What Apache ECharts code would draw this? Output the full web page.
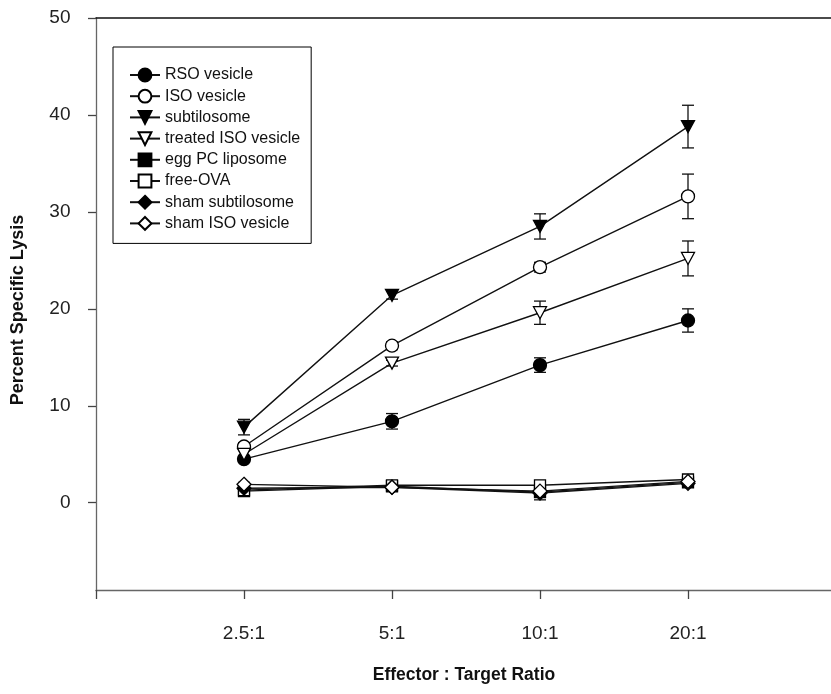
<!DOCTYPE html>
<html>
<head>
<meta charset="utf-8">
<script src="https://cdn.jsdelivr.net/npm/echarts@6/dist/echarts.min.js"></script>
<style>
html,body{margin:0;padding:0;background:#fff;}
#chart{width:831px;height:694px;}
</style>
</head>
<body>
<div id="chart"></div>
<script>
// ---- data ----
var categories = ['2.5:1', '5:1', '10:1', '20:1'];
var xPositions = [1, 2, 3, 4];
var yTicks = [0, 10, 20, 30, 40, 50];

var rsoVesicle = [4.5, 8.4, 14.2, 18.8];
var rsoErr = [0.3, 0.8, 0.75, 1.2];
var isoVesicle = [5.8, 16.2, 24.3, 31.6];
var isoErr = [0.4, 0.4, 0.5, 2.3];
var subtilosome = [7.8, 21.4, 28.5, 38.8];
var subtilosomeErr = [0.8, 0.4, 1.3, 2.2];
var treatedIso = [5.0, 14.4, 19.6, 25.2];
var treatedIsoErr = [0.4, 0.3, 1.2, 1.8];
var eggPC = [1.2, 1.7, 1.1, 2.1];
var freeOVA = [1.3, 1.8, 1.8, 2.4];
var shamSubtilosome = [1.5, 1.6, 1.0, 2.0];
var shamIso = [1.9, 1.6, 1.2, 2.2];
var shamIsoErr = [0.2, 0.2, 0.9, 0.2];

var FONT = 'Liberation Sans, Arial, sans-serif';
var downTri = 'path://M0,0 L20,0 L10,17.3 Z';

function pts(vals) { return vals.map(function (v, i) { return [xPositions[i], v]; }); }
function errs(vals, e) { return vals.map(function (v, i) { return [xPositions[i], v - e[i], v + e[i]]; }); }

function lineSeries(name, vals, symbol, filled, size) {
  return {
    name: name, type: 'line', data: pts(vals),
    symbol: symbol, symbolSize: size, showSymbol: true,
    lineStyle: { color: '#111', width: 1.4 },
    itemStyle: { color: filled ? '#000' : '#fff', borderColor: '#000', borderWidth: 1.3 },
    z: 5, animation: false
  };
}
function errSeries(vals, e) {
  return {
    type: 'custom', data: errs(vals, e), z: 3, silent: true, animation: false,
    renderItem: function (params, api) {
      var x = api.value(0);
      var lo = api.coord([x, api.value(1)]);
      var hi = api.coord([x, api.value(2)]);
      var w = 6;
      var st = { stroke: '#111', lineWidth: 1.3 };
      return { type: 'group', children: [
        { type: 'line', shape: { x1: lo[0], y1: lo[1], x2: hi[0], y2: hi[1] }, style: st },
        { type: 'line', shape: { x1: lo[0] - w, y1: lo[1], x2: lo[0] + w, y2: lo[1] }, style: st },
        { type: 'line', shape: { x1: hi[0] - w, y1: hi[1], x2: hi[0] + w, y2: hi[1] }, style: st }
      ]};
    }
  };
}

var chart = echarts.init(document.getElementById('chart'));
chart.setOption({
  backgroundColor: '#fff',
  animation: false,
  textStyle: { fontFamily: FONT },
  grid: { left: 96, width: 740, top: 18, bottom: 104, outerBoundsMode: 'none', containLabel: false },
  legend: {
    orient: 'vertical', left: 113, top: 47,
    padding: [20, 11, 12, 16],
    borderColor: '#000', borderWidth: 1,
    itemWidth: 30, itemHeight: 16, itemGap: 5.2,
    textStyle: { fontSize: 16, color: '#111', fontFamily: FONT },
    data: ['RSO vesicle', 'ISO vesicle', 'subtilosome', 'treated ISO vesicle', 'egg PC liposome', 'free-OVA', 'sham subtilosome', 'sham ISO vesicle']
  },
  graphic: [{
    type: 'text', x: 18, y: 310, rotation: Math.PI / 2,
    style: { text: 'Percent Specific Lysis', fontSize: 18, fontWeight: 'bold', fill: '#111',
      fontFamily: FONT, align: 'center', verticalAlign: 'middle' }
  }, {
    type: 'text', x: 464, y: 675,
    style: { text: 'Effector : Target Ratio', fontSize: 17.5, fontWeight: 'bold', fill: '#111',
      fontFamily: FONT, align: 'center', verticalAlign: 'middle' }
  }],
  xAxis: [{
    type: 'value', min: 0, max: 5, interval: 1,
    axisLine: { onZero: false, lineStyle: { color: '#666', width: 1.3 } },
    axisTick: { length: 9, lineStyle: { color: '#444', width: 1.3 } },
    axisLabel: { margin: 34, fontSize: 19, color: '#222', fontFamily: FONT,
      formatter: function (v) { var i = xPositions.indexOf(v); return i >= 0 ? categories[i] : ''; } },
    splitLine: { show: false }
  }, {
    type: 'value', position: 'top', min: 0, max: 5,
    axisLine: { show: true, onZero: false, lineStyle: { color: '#111', width: 1.5 } },
    axisTick: { show: false }, axisLabel: { show: false }, splitLine: { show: false }
  }],
  yAxis: {
    type: 'value', min: -9, max: 50,
    axisLine: { show: true, onZero: false, lineStyle: { color: '#666', width: 1.3 } },
    axisTick: { show: true, length: 8, customValues: yTicks, lineStyle: { color: '#444', width: 1.3 } },
    axisLabel: { margin: 25.5, fontSize: 19, color: '#222', fontFamily: FONT, customValues: yTicks },
    splitLine: { show: false }
  },
  series: [
    errSeries(rsoVesicle, rsoErr),
    errSeries(isoVesicle, isoErr),
    errSeries(subtilosome, subtilosomeErr),
    errSeries(treatedIso, treatedIsoErr),
    errSeries(shamIso, shamIsoErr),
    lineSeries('RSO vesicle', rsoVesicle, 'circle', true, 13),
    lineSeries('ISO vesicle', isoVesicle, 'circle', false, 13),
    lineSeries('subtilosome', subtilosome, downTri, true, [13, 12]),
    lineSeries('treated ISO vesicle', treatedIso, downTri, false, [13, 12]),
    lineSeries('egg PC liposome', eggPC, 'rect', true, 11),
    lineSeries('free-OVA', freeOVA, 'rect', false, 11),
    lineSeries('sham subtilosome', shamSubtilosome, 'diamond', true, 14),
    lineSeries('sham ISO vesicle', shamIso, 'diamond', false, 14)
  ]
});
</script>
</body>
</html>
